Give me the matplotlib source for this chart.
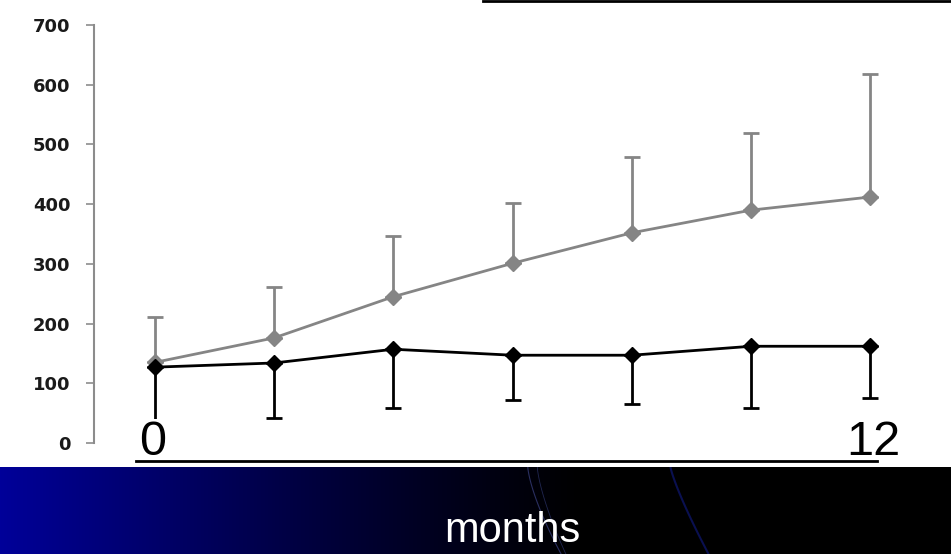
import numpy as np
import matplotlib.pyplot as plt
from matplotlib.lines import Line2D
from matplotlib.patches import Rectangle

months = [0, 2, 4, 6, 8, 10, 12]
gray_mean = [135, 176, 245, 301, 352, 390, 412]
gray_err_up = [76, 85, 101, 101, 127, 129, 206]
black_mean = [127, 134, 157, 147, 147, 162, 162]
black_err_down = [90, 92, 98, 75, 82, 103, 87]
y_ticks = [0, 100, 200, 300, 400, 500, 600, 700]

W, H = 951, 554
fig = plt.figure(figsize=(W / 100, H / 100), dpi=100)
fig.patch.set_facecolor('white')

# plot area (pixel layout of the slide)
ax = fig.add_axes([94 / W, (H - 443) / H, 836 / W, 418 / H])
ax.set_xlim(-1.02, 13.0)
ax.set_ylim(0, 700)

zeros = [0] * len(months)
ax.errorbar(months, gray_mean, yerr=[zeros, gray_err_up], color='#858585',
            lw=2, marker='D', ms=8, capsize=6, capthick=2, elinewidth=2, zorder=2)
ax.errorbar(months, black_mean, yerr=[black_err_down, zeros], color='black',
            lw=2, marker='D', ms=8, capsize=6, capthick=2, elinewidth=2, zorder=3)

for s in ['top', 'right', 'bottom']:
    ax.spines[s].set_visible(False)
ax.spines['left'].set_color('#8c8c8c')
ax.spines['left'].set_linewidth(1.5)
ax.set_xticks([])
ax.set_yticks(y_ticks)
ax.tick_params(axis='y', direction='out', length=6, width=1.2, color='#8c8c8c',
               pad=11, labelsize=13)
for lab in ax.get_yticklabels():
    lab.set_fontweight('bold')
    lab.set_color('#1a1a1a')

# dark blue banner at the bottom
bax = fig.add_axes([0, 0, 1, 87 / H])
xs = np.linspace(0, 1, 600)
r = np.clip(1 - xs / 0.62, 0, 1)
grad = np.zeros((2, len(xs), 3))
grad[:, :, 2] = 0.6 * r ** 1.2
bax.imshow(grad, aspect='auto', extent=[0, 1, 0, 1])
t = np.linspace(0, 1, 50)
bax.plot(0.555 + 0.035 * t ** 1.4, 1 - t, color='#2a2f60', lw=0.8)
bax.plot(0.565 + 0.03 * t ** 1.4, 1 - t, color='#202650', lw=0.6)
bax.plot(0.705 + 0.04 * t ** 1.2, 1 - t, color='#0a1050', lw=1.5)
bax.set_xlim(0, 1)
bax.set_ylim(0, 1)
bax.axis('off')
fig.text(512 / W, 12 / H, 'months', color='white', fontsize=30,
         family='Liberation Sans', ha='center', va='baseline')

# slide annotations: month labels (white text boxes) with underline, line at top
fig.add_artist(Rectangle((139 / W, (H - 458) / H), 29 / W, 39 / H,
                         transform=fig.transFigure, facecolor='white',
                         edgecolor='none', zorder=5))
fig.text(153 / W, 99 / H, '0', fontsize=35, family='Liberation Sans',
         ha='center', va='baseline', zorder=6)
fig.text(873 / W, 99 / H, '12', fontsize=35, family='Liberation Sans',
         ha='center', va='baseline', zorder=6)
fig.add_artist(Line2D([136 / W, 877 / W], [(H - 461) / H] * 2, color='black', lw=2))
fig.add_artist(Line2D([483 / W, 1.0], [(H - 1) / H] * 2, color='black', lw=2))

fig.savefig('out.png', dpi=100)
